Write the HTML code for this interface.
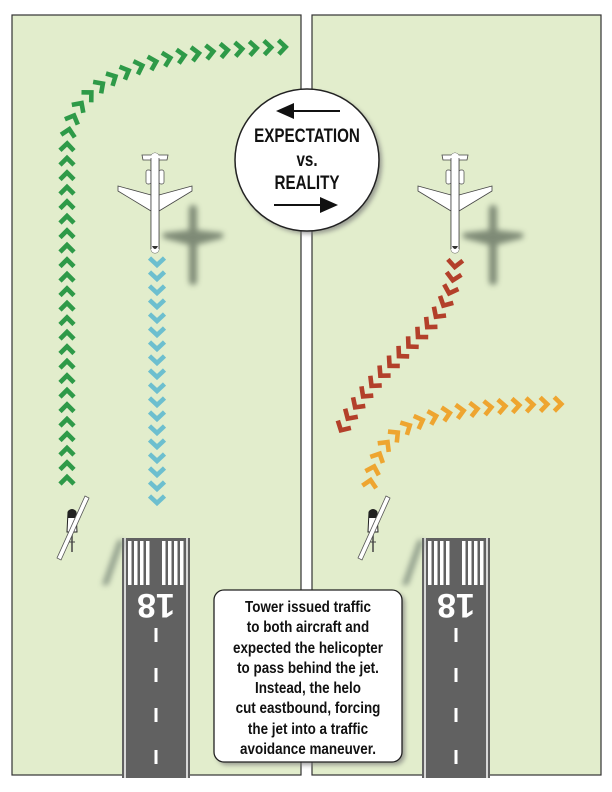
<!DOCTYPE html>
<html><head><meta charset="utf-8"><style>
html,body{margin:0;padding:0;background:#fff;}
svg{display:block;}
.t{font-family:"Liberation Sans",sans-serif;font-weight:bold;}
</style></head><body>
<svg id="s" width="612" height="792" viewBox="0 0 612 792" xmlns="http://www.w3.org/2000/svg">
<defs>
<filter id="bl" x="-50%" y="-50%" width="200%" height="200%"><feGaussianBlur stdDeviation="3"/></filter>
<filter id="sh" x="-20%" y="-20%" width="150%" height="150%"><feGaussianBlur stdDeviation="2.5"/></filter>
<g id="jet">
<rect x="-4" y="0" width="8" height="100" rx="4" fill="#fff" stroke="#444" stroke-width="0.8"/>
<path d="M-13,2 L13,2 L12,7 L-12,7 Z" fill="#fff" stroke="#444" stroke-width="0.8"/>
<rect x="-9" y="17" width="5" height="14" rx="2" fill="#fff" stroke="#444" stroke-width="0.7"/>
<rect x="4" y="17" width="5" height="14" rx="2" fill="#fff" stroke="#444" stroke-width="0.7"/>
<path d="M-4,42 L-37,33 L-37,38 L-4,58 Z M4,42 L37,33 L37,38 L4,58 Z" fill="#fff" stroke="#444" stroke-width="0.8"/>
<rect x="-4" y="0" width="8" height="100" rx="4" fill="#fff"/>
<line x1="-4" y1="5" x2="-4" y2="96" stroke="#444" stroke-width="0.8"/>
<line x1="4" y1="5" x2="4" y2="96" stroke="#444" stroke-width="0.8"/>
<path d="M-3,93 Q0,99 3,93" fill="#333"/>
</g>
<g id="jsh" fill="#5d6b5a" opacity="0.75" filter="url(#bl)">
<rect x="-4" y="0" width="8" height="80" rx="4"/>
<path d="M-3,25 L-30,28 L-30,33 L-3,40 Z M3,25 L30,28 L30,33 L3,40 Z"/>
</g>
<g id="helo">
<path d="M-4,-10 L4,-10 L5,10 L-5,10 Z" fill="#fff" stroke="#222" stroke-width="1"/>
<path d="M-4,-11 Q0,-15 4,-11 L4,-4 L-4,-4 Z" fill="#222"/>
<line x1="0" y1="10" x2="0" y2="30" stroke="#444" stroke-width="1.5"/>
<line x1="-3" y1="20" x2="3" y2="20" stroke="#444" stroke-width="1"/>
<path d="M13,-26 L17,-24 L-11,38 L-15,36 Z" fill="#fff" stroke="#555" stroke-width="0.8"/>
</g>
<g id="rw">
<rect x="0" y="0" width="68" height="240" fill="#616161"/>
<line x1="3" y1="0" x2="3" y2="240" stroke="#fff" stroke-width="1.5"/>
<line x1="65" y1="0" x2="65" y2="240" stroke="#fff" stroke-width="1.5"/>
<g fill="#fff">
<rect x="6" y="3" width="3.5" height="44"/><rect x="12" y="3" width="3.5" height="44"/><rect x="18" y="3" width="3.5" height="44"/><rect x="24" y="3" width="3.5" height="44"/>
<rect x="40" y="3" width="3.5" height="44"/><rect x="46" y="3" width="3.5" height="44"/><rect x="52" y="3" width="3.5" height="44"/><rect x="58" y="3" width="3.5" height="44"/>
<rect x="32.5" y="90" width="3" height="14"/><rect x="32.5" y="130" width="3" height="14"/><rect x="32.5" y="170" width="3" height="14"/><rect x="32.5" y="212" width="3" height="14"/>
</g>
</g>
</defs>
<rect x="12" y="15" width="289" height="760" fill="#e2edcc" stroke="#333" stroke-width="1.2"/>
<rect x="312" y="15" width="289" height="760" fill="#e2edcc" stroke="#333" stroke-width="1.2"/>

<use href="#rw" x="122" y="538"/>
<use href="#rw" x="422" y="538"/>
<text class="t" x="156" y="618" transform="rotate(180 156 606)" text-anchor="middle" font-size="34" fill="#fff">18</text>
<text class="t" x="456" y="618" transform="rotate(180 456 606)" text-anchor="middle" font-size="34" fill="#fff">18</text>

<use href="#jsh" x="193" y="205"/>
<use href="#jsh" x="493" y="205"/>
<use href="#jet" x="155" y="153"/>
<use href="#jet" x="455" y="153"/>
<g fill="#66766a" opacity="0.7" filter="url(#bl)"><path d="M118,540 L124,540 L108,585 L102,585 Z"/><path d="M418,540 L424,540 L408,585 L402,585 Z"/></g>
<use href="#helo" x="72" y="522"/>
<use href="#helo" x="373" y="522"/>

<g id="chev"></g>

<ellipse cx="310" cy="163" rx="72" ry="71" fill="#777" filter="url(#sh)" opacity="0.7"/>
<ellipse cx="307" cy="160" rx="72" ry="71" fill="#fff" stroke="#222" stroke-width="1.5"/>
<line x1="292" y1="111" x2="340" y2="111" stroke="#111" stroke-width="2"/><path d="M276,111 L294,103 L294,119 Z" fill="#111"/>
<line x1="274" y1="205" x2="322" y2="205" stroke="#111" stroke-width="2"/><path d="M338,205 L320,197 L320,213 Z" fill="#111"/>
<g class="t" fill="#111" text-anchor="middle" font-size="19">
<text x="307" y="142" transform="translate(307 0) scale(0.8 1) translate(-307 0)">EXPECTATION</text>
<text x="307" y="166" transform="translate(307 0) scale(0.8 1) translate(-307 0)">vs.</text>
<text x="307" y="189" transform="translate(307 0) scale(0.8 1) translate(-307 0)">REALITY</text>
</g>

<rect x="217" y="593" width="188" height="172" rx="10" fill="#777" filter="url(#sh)" opacity="0.7"/>
<rect x="214" y="590" width="188" height="172" rx="10" fill="#fff" stroke="#222" stroke-width="1.3"/>
<g class="t" fill="#111" text-anchor="middle" font-size="16">
<text x="308" y="612" transform="translate(308 0) scale(0.84 1) translate(-308 0)">Tower issued traffic</text>
<text x="308" y="632" transform="translate(308 0) scale(0.84 1) translate(-308 0)">to both aircraft and</text>
<text x="308" y="653" transform="translate(308 0) scale(0.84 1) translate(-308 0)">expected the helicopter</text>
<text x="308" y="673" transform="translate(308 0) scale(0.84 1) translate(-308 0)">to pass behind the jet.</text>
<text x="308" y="693" transform="translate(308 0) scale(0.84 1) translate(-308 0)">Instead, the helo</text>
<text x="308" y="713" transform="translate(308 0) scale(0.84 1) translate(-308 0)">cut eastbound, forcing</text>
<text x="308" y="734" transform="translate(308 0) scale(0.84 1) translate(-308 0)">the jet into a traffic</text>
<text x="308" y="754" transform="translate(308 0) scale(0.84 1) translate(-308 0)">avoidance maneuver.</text>
</g>
</svg>
<script>
(function(){
var ns="http://www.w3.org/2000/svg",g=document.getElementById("chev");
function run(d,col,step,w){
 var p=document.createElementNS(ns,"path");p.setAttribute("d",d);p.setAttribute("fill","none");
 g.appendChild(p);var L=p.getTotalLength();
 for(var s=0;s<=L+0.1;s+=step){
  var a=p.getPointAtLength(Math.min(s,L)),b=p.getPointAtLength(Math.min(L,s+1)),c=p.getPointAtLength(Math.max(0,s-1));
  var ang=Math.atan2(b.y-c.y,b.x-c.x)*180/Math.PI;
  var e=document.createElementNS(ns,"path");
  e.setAttribute("d","M-4,-"+w+" L3,0 L-4,"+w);
  e.setAttribute("fill","none");e.setAttribute("stroke",col);e.setAttribute("stroke-width","4.6");
  e.setAttribute("stroke-linejoin","miter");
  e.setAttribute("transform","translate("+a.x+","+a.y+") rotate("+ang+")");
  g.appendChild(e);
 }
 g.removeChild(p);
}
run("M67,480 L67,150 C67,95 110,72 170,58 C210,50 250,48 285,47","#2e9a48",14.5,7);
run("M157,262 L157,503","#6dbfcf",14,7.5);
run("M455,264 C452,300 440,315 410,345 C385,370 360,395 340,432","#b3402a",13.5,7.5);
run("M370,483 C378,440 400,425 440,415 C480,406 530,404 570,404","#eea530",14,7);
})();
</script>
</body></html>
